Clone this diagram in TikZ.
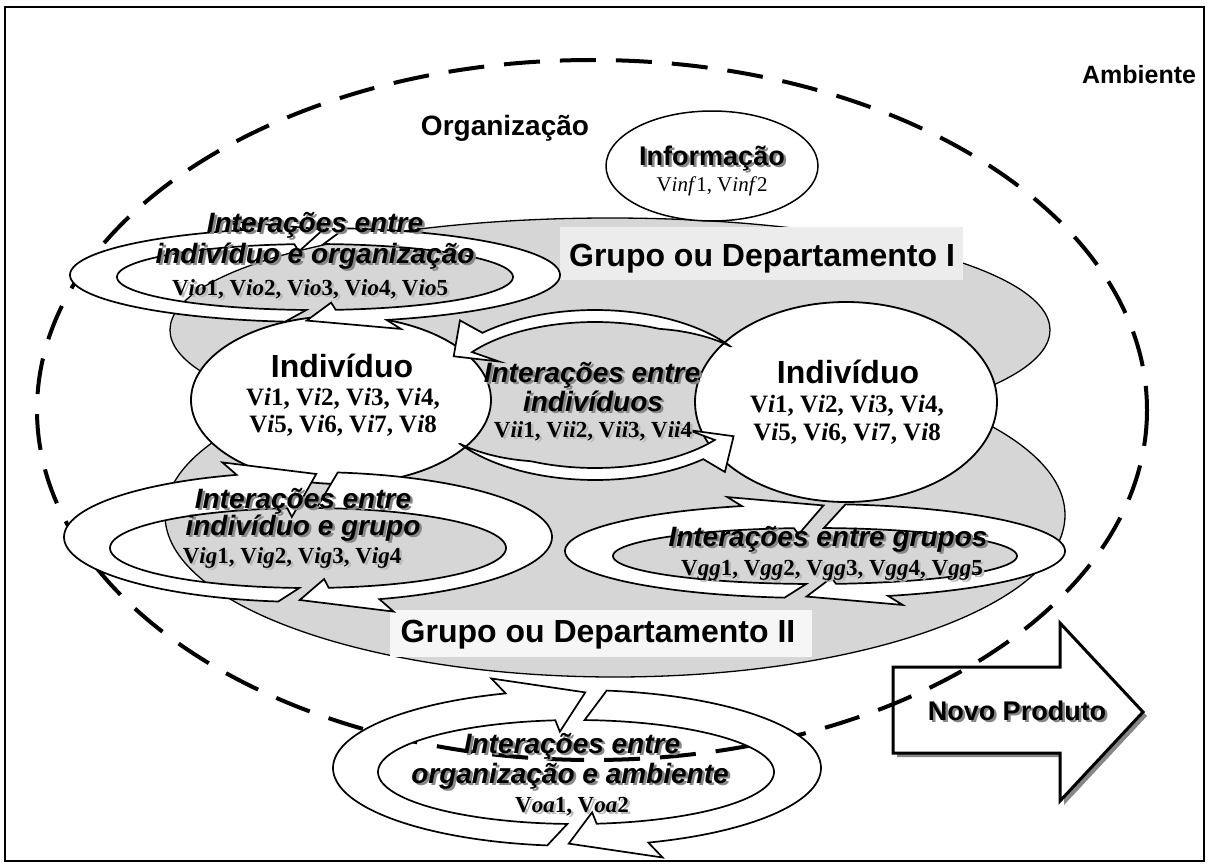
\documentclass[tikz,border=0pt]{standalone}
\usepackage{fontspec}
\setmainfont{Liberation Serif}
\newfontfamily\sansf{Liberation Sans}
\definecolor{grp}{RGB}{214,214,214}
\definecolor{boxI}{RGB}{236,236,236}
\definecolor{boxII}{RGB}{246,246,246}
\definecolor{shd}{RGB}{135,135,135}
\definecolor{shdlight}{RGB}{185,185,185}

% ring geometry: outer centre, outer radii, inner centre, inner radii
\newcommand\setring[8]{\def\rcx{#1}\def\rcy{#2}\def\rRa{#3}\def\rRb{#4}\def\ricx{#5}\def\ricy{#6}\def\rra{#7}\def\rrb{#8}}
% one curved arrow of a ring: [taper span]{tail angle}{tip angle}
\newcommand\ringarrow[3][0]{%
  \pgfmathsetmacro\rs{ifthenelse(#3>#2,1,-1)}%
  \pgfmathsetmacro\aHo{#3-19*\rs}%
  \pgfmathsetmacro\aHi{#3-8*\rs}%
  \ifdim #1pt>0pt
    \pgfmathsetmacro\aTi{#2}%
    \def\tf{max(0,1-abs(\x-(#2))/#1)}%
  \else
    \pgfmathsetmacro\aTi{#2-4.5*\rs}%
    \def\tf{0}%
  \fi
  \filldraw[ringarrow]
    plot[domain=#2:\aHo,samples=70] ({\rcx+\rRa*cos(\x)},{\rcy+\rRb*sin(\x)})
    -- ({\rcx+1.2*\rRa*cos(\aHo)},{\rcy+1.2*\rRb*sin(\aHo)})
    -- ({\rcx+0.97*\rRa*cos(#3)},{\rcy+0.97*\rRb*sin(#3)})
    -- ({\ricx+0.78*\rra*cos(\aHi)},{\ricy+0.78*\rrb*sin(\aHi)})
    -- plot[domain=\aHi:\aTi,samples=70] ({\ricx+(\rra+(\rRa-\rra)*\tf)*cos(\x)},{\ricy+(\rrb+(\rRb-\rrb)*\tf)*sin(\x)})
    -- cycle;}
% text with a soft drop shadow
\newcommand\shtext[5][shd]{\node[#2,text=#1,xshift=2.5pt,yshift=-2.5pt] (#3s) at #4 {#5};\node[#2] (#3) at #4 {#5};}
\newcommand\vv[2]{V\textit{#1}#2}

\begin{document}
\begin{tikzpicture}[x=1pt,y=-1pt,
  ringarrow/.style={fill=white,draw=black,line width=1.7pt,line join=miter},
  txt/.style={inner sep=0pt,outer sep=0pt,anchor=base},
  big/.style={txt,font=\sansf\bfseries\fontsize{32}{36}\selectfont},
  mid/.style={txt,font=\sansf\bfseries\fontsize{27}{30}\selectfont},
  inter/.style={txt,font=\sansf\bfseries\itshape\fontsize{28}{32}\selectfont},
  vals/.style={txt,font=\bfseries\fontsize{25}{28}\selectfont},
  ivals/.style={txt,font=\bfseries\fontsize{23}{26}\selectfont},
  blob/.style={fill=white,draw=black,line width=1.8pt}]
\useasboundingbox (0,0) rectangle (1208,864);
\fill[white] (0,0) rectangle (1208,864);
\draw[line width=2.5pt] (5,7) rectangle (1204,861);

% new product arrow
\begin{scope}[shift={(4,4)}]
  \fill[shd] (893,667) -- (1060,667) -- (1060,623) -- (1143,712) -- (1060,801) -- (1060,753) -- (893,753) -- cycle;
\end{scope}
\draw[fill=white,line width=3pt,line join=miter] (893,667) -- (1060,667) -- (1060,623) -- (1143,712) -- (1060,801) -- (1060,753) -- (893,753) -- cycle;
\shtext{mid}{np}{(1017,720)}{Novo Produto}

% organisation boundary
\draw[line width=4pt,dash pattern=on 36pt off 20pt] (592,410) ellipse [x radius=555,y radius=350];

% groups
\filldraw[fill=grp,draw=black,line width=1.3pt] (610,330) ellipse [x radius=440,y radius=112];
\filldraw[fill=grp,draw=black,line width=1.3pt] (615,515) ellipse [x radius=450,y radius=162];
\fill[grp] (610,330) ellipse [x radius=438.5,y radius=110.5];
\fill[boxI] (560,227) rectangle (963,280);
\fill[boxII] (390,610) rectangle (812,657);

% information
\draw[fill=white,line width=1.5pt] (712,166) ellipse [x radius=106,y radius=55];

% individuals
\draw[blob] (341,400) ellipse [x radius=150,y radius=84];
\draw[blob] (846,402) ellipse [x radius=151,y radius=100];

% interaction cycles
\setring{315}{275}{245}{47}{315}{277}{198}{33}
\ringarrow{97}{272}\ringarrow{277}{452}
\setring{308}{537}{244}{65}{308}{548}{198}{40}
\ringarrow{97}{272}\ringarrow{277}{452}
\setring{815}{551}{250}{47}{815}{556}{202}{28}
\ringarrow{97}{272}\ringarrow{277}{452}
\setring{577}{768}{244}{78}{576}{772}{198}{52}
\ringarrow{97}{272}\ringarrow{277}{452}
\setring{595}{395}{165}{85}{595}{395}{152}{73}
\ringarrow[30]{325}{208}\ringarrow[30]{145}{30}

% labels
\node[txt,font=\sansf\bfseries\fontsize{25}{28}\selectfont,anchor=base east] (amb) at (1196,84) {Ambiente};
\node[txt,font=\sansf\bfseries\fontsize{28}{32}\selectfont] (org) at (505,136) {Organização};
\shtext{mid}{inf}{(712,165)}{Informação}
\node[txt,font=\fontsize{21}{24}\selectfont] (vinf) at (712,192) {\vv{inf}{1}, \vv{inf}{2}};
\node[big] (g1) at (762,266) {Grupo ou Departamento I};
\node[big] (g2) at (598,642) {Grupo ou Departamento II};

\node[big] (indL) at (342,377) {Indivíduo};
\node[vals] (indL1) at (343,405) {\vv{i}{1}, \vv{i}{2}, \vv{i}{3}, \vv{i}{4},};
\node[vals] (indL2) at (343,432) {\vv{i}{5}, \vv{i}{6}, \vv{i}{7}, \vv{i}{8}};
\node[big] (indR) at (848,383) {Indivíduo};
\node[vals] (indR1) at (847,412) {\vv{i}{1}, \vv{i}{2}, \vv{i}{3}, \vv{i}{4},};
\node[vals] (indR2) at (847,440) {\vv{i}{5}, \vv{i}{6}, \vv{i}{7}, \vv{i}{8}};

\shtext{inter}{ioA}{(315,232)}{Interações entre}
\shtext{inter}{ioB}{(315,263)}{indivíduo e organização}
\shtext[shdlight]{ivals}{ioC}{(310,295)}{\vv{io}{1}, \vv{io}{2}, \vv{io}{3}, \vv{io}{4}, \vv{io}{5}}

\shtext{inter}{iiA}{(592,382)}{Interações entre}
\shtext{inter}{iiB}{(593,411)}{indivíduos}
\shtext[shdlight]{ivals}{iiC}{(593,437)}{\vv{ii}{1}, \vv{ii}{2}, \vv{ii}{3}, \vv{ii}{4}}

\shtext{inter}{igA}{(303,508)}{Interações entre}
\shtext{inter}{igB}{(303,535)}{indivíduo e grupo}
\shtext[shdlight]{ivals}{igC}{(292,563)}{\vv{ig}{1}, \vv{ig}{2}, \vv{ig}{3}, \vv{ig}{4}}

\shtext{inter}{ggA}{(828,546)}{Interações entre grupos}
\shtext[shdlight]{ivals}{ggB}{(832,575)}{\vv{gg}{1}, \vv{gg}{2}, \vv{gg}{3}, \vv{gg}{4}, \vv{gg}{5}}

\shtext{inter}{oaA}{(572,753)}{Interações entre}
\shtext{inter}{oaB}{(570,783)}{organização e ambiente}
\shtext[shdlight]{ivals}{oaC}{(572,812)}{\vv{oa}{1}, \vv{oa}{2}}
\end{tikzpicture}
\end{document}
